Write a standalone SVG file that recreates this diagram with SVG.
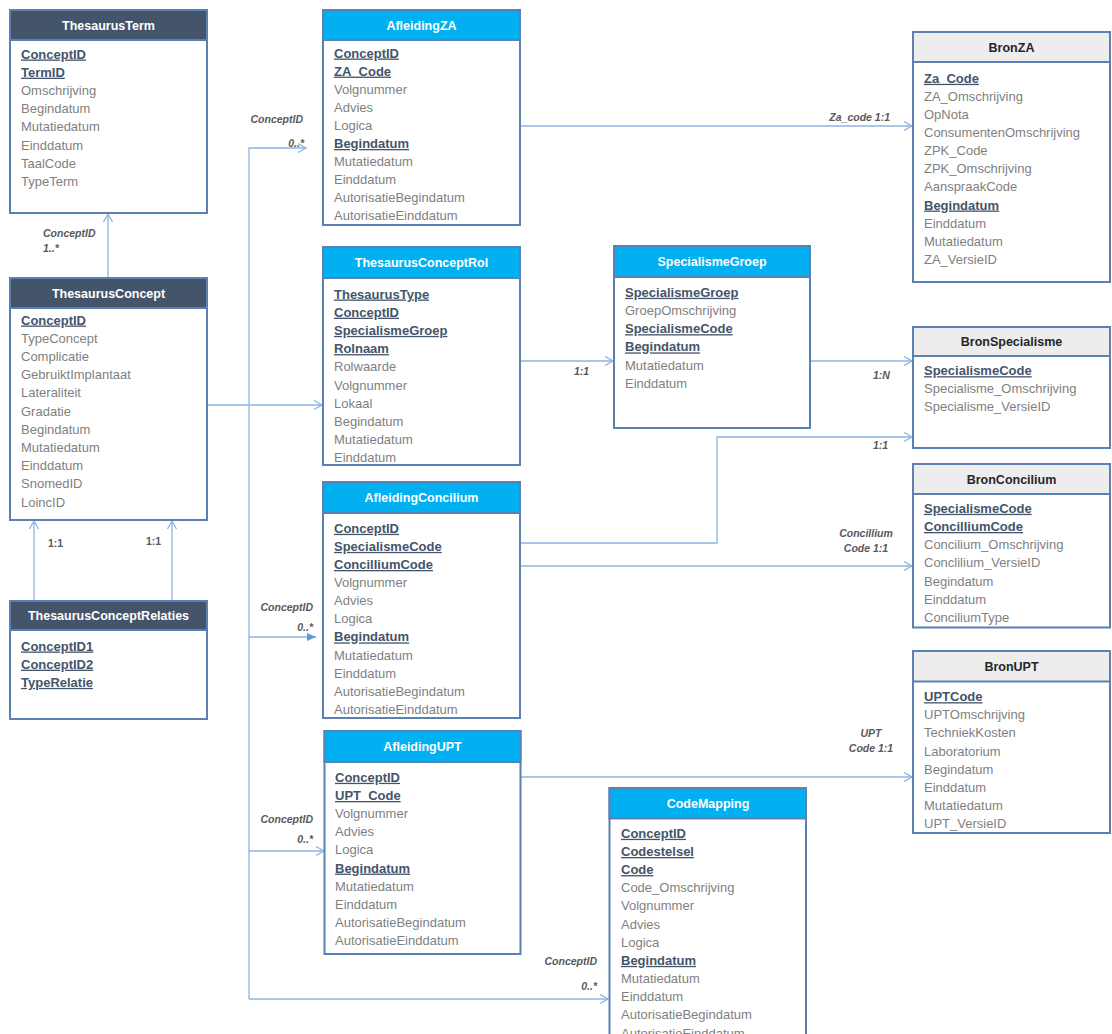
<svg xmlns="http://www.w3.org/2000/svg" width="1112" height="1034" viewBox="0 0 1112 1034">
<style>
.box{fill:#fff;stroke:#5B81B3;stroke-width:2}
.hdark{fill:#44546A;stroke:#5B81B3;stroke-width:2}
.hblue{fill:#00B0F0;stroke:#5B81B3;stroke-width:2}
.hgray{fill:#EDEDED;stroke:#5B81B3;stroke-width:2}
.tl{font-family:"Liberation Sans",Arial,sans-serif;font-size:12.5px;font-weight:bold;fill:#fff;text-anchor:middle}
.td{font-family:"Liberation Sans",Arial,sans-serif;font-size:12.5px;font-weight:bold;fill:#262626;text-anchor:middle}
.f{font-family:"Liberation Sans",Arial,sans-serif;font-size:13px;fill:#7F7F7F}
.k{font-family:"Liberation Sans",Arial,sans-serif;font-size:13px;font-weight:bold;fill:#44546A;text-decoration:underline}
.con{fill:none;stroke:#8DB4E2;stroke-width:1.3}
.lb{font-family:"Liberation Sans",Arial,sans-serif;font-size:10.5px;font-style:italic;font-weight:bold;fill:#595959}
.ln{font-family:"Liberation Sans",Arial,sans-serif;font-size:10.5px;font-weight:bold;fill:#595959}
</style>
<defs>
<marker id="open" markerUnits="userSpaceOnUse" markerWidth="12" markerHeight="12" refX="9" refY="5" orient="auto">
<path d="M1,0.5 L9,5 L1,9.5" fill="none" stroke="#8DB4E2" stroke-width="1.3"/>
</marker>
<marker id="solid" markerUnits="userSpaceOnUse" markerWidth="12" markerHeight="12" refX="9" refY="5" orient="auto">
<path d="M0,1 L9,5 L0,9 Z" fill="#5B9BD5"/>
</marker>
</defs>
<rect width="1112" height="1034" fill="#fff"/>

<g id="connectors">
<path class="con" d="M108 278 V214" marker-end="url(#open)"/>
<path class="con" d="M34 601 V521" marker-end="url(#open)"/>
<path class="con" d="M172 601 V521" marker-end="url(#open)"/>
<path class="con" d="M249 999 V148 H306" marker-end="url(#open)"/>
<path class="con" d="M207 405 H322" marker-end="url(#open)"/>
<path class="con" d="M249 637 H316" marker-end="url(#solid)"/>
<path class="con" d="M249 851 H324" marker-end="url(#open)"/>
<path class="con" d="M249 999 H608" marker-end="url(#open)"/>
<path class="con" d="M520 126 H912" marker-end="url(#open)"/>
<path class="con" d="M520 361 H613" marker-end="url(#open)"/>
<path class="con" d="M810 361 H912" marker-end="url(#open)"/>
<path class="con" d="M520 543 H717 V437 H912" marker-end="url(#open)"/>
<path class="con" d="M520 566 H912" marker-end="url(#open)"/>
<path class="con" d="M521 777 H912" marker-end="url(#open)"/>
<text class="lb" x="43" y="237">ConceptID</text>
<text class="lb" x="43" y="252">1..*</text>
<text class="ln" x="48" y="547">1:1</text>
<text class="ln" x="146" y="545">1:1</text>
<text class="lb" x="303" y="123" text-anchor="end">ConceptID</text>
<text class="lb" x="304" y="147" text-anchor="end">0..*</text>
<text class="lb" x="313" y="611" text-anchor="end">ConceptID</text>
<text class="lb" x="313" y="631" text-anchor="end">0..*</text>
<text class="lb" x="313" y="823" text-anchor="end">ConceptID</text>
<text class="lb" x="313" y="843" text-anchor="end">0..*</text>
<text class="lb" x="597" y="965" text-anchor="end">ConceptID</text>
<text class="lb" x="597" y="990" text-anchor="end">0..*</text>
<text class="lb" x="890" y="121" text-anchor="end">Za_code 1:1</text>
<text class="lb" x="574" y="375">1:1</text>
<text class="lb" x="873" y="379">1:N</text>
<text class="lb" x="873" y="449">1:1</text>
<text class="lb" x="866" y="537" text-anchor="middle">Concillium</text>
<text class="lb" x="866" y="552" text-anchor="middle">Code 1:1</text>
<text class="lb" x="871" y="737" text-anchor="middle">UPT</text>
<text class="lb" x="871" y="752" text-anchor="middle">Code 1:1</text>
</g>

<g id="ThesaurusTerm">
<rect class="box" x="10" y="10" width="197" height="203"/>
<rect class="hdark" x="10" y="10" width="197" height="30"/>
<text class="tl" x="108.5" y="29.5">ThesaurusTerm</text>
<text class="k" x="21" y="58.5">ConceptID</text>
<text class="k" x="21" y="76.7">TermID</text>
<text class="f" x="21" y="94.9">Omschrijving</text>
<text class="f" x="21" y="113.1">Begindatum</text>
<text class="f" x="21" y="131.3">Mutatiedatum</text>
<text class="f" x="21" y="149.5">Einddatum</text>
<text class="f" x="21" y="167.7">TaalCode</text>
<text class="f" x="21" y="185.9">TypeTerm</text>
</g>

<g id="ThesaurusConcept">
<rect class="box" x="10" y="278" width="197" height="242"/>
<rect class="hdark" x="10" y="278" width="197" height="30"/>
<text class="tl" x="108.5" y="297.5">ThesaurusConcept</text>
<text class="k" x="21" y="324.5">ConceptID</text>
<text class="f" x="21" y="342.7">TypeConcept</text>
<text class="f" x="21" y="360.9">Complicatie</text>
<text class="f" x="21" y="379.1">GebruiktImplantaat</text>
<text class="f" x="21" y="397.3">Lateraliteit</text>
<text class="f" x="21" y="415.5">Gradatie</text>
<text class="f" x="21" y="433.7">Begindatum</text>
<text class="f" x="21" y="451.9">Mutatiedatum</text>
<text class="f" x="21" y="470.1">Einddatum</text>
<text class="f" x="21" y="488.3">SnomedID</text>
<text class="f" x="21" y="506.5">LoincID</text>
</g>

<g id="ThesaurusConceptRelaties">
<rect class="box" x="10" y="601" width="197" height="118"/>
<rect class="hdark" x="10" y="601" width="197" height="29"/>
<text class="tl" x="108.5" y="620">ThesaurusConceptRelaties</text>
<text class="k" x="21" y="650.5">ConceptID1</text>
<text class="k" x="21" y="668.7">ConceptID2</text>
<text class="k" x="21" y="686.9">TypeRelatie</text>
</g>

<g id="AfleidingZA">
<rect class="box" x="323" y="10" width="197" height="215"/>
<rect class="hblue" x="323" y="10" width="197" height="30"/>
<text class="tl" x="421.5" y="29.5">AfleidingZA</text>
<text class="k" x="334" y="57.5">ConceptID</text>
<text class="k" x="334" y="75.6">ZA_Code</text>
<text class="f" x="334" y="93.7">Volgnummer</text>
<text class="f" x="334" y="111.8">Advies</text>
<text class="f" x="334" y="129.9">Logica</text>
<text class="k" x="334" y="148">Begindatum</text>
<text class="f" x="334" y="166.1">Mutatiedatum</text>
<text class="f" x="334" y="184.2">Einddatum</text>
<text class="f" x="334" y="202.3">AutorisatieBegindatum</text>
<text class="f" x="334" y="220.4">AutorisatieEinddatum</text>
</g>

<g id="ThesaurusConceptRol">
<rect class="box" x="323" y="247" width="197" height="218"/>
<rect class="hblue" x="323" y="247" width="197" height="31"/>
<text class="tl" x="421.5" y="267">ThesaurusConceptRol</text>
<text class="k" x="334" y="298.5">ThesaurusType</text>
<text class="k" x="334" y="316.7">ConceptID</text>
<text class="k" x="334" y="334.9">SpecialismeGroep</text>
<text class="k" x="334" y="353.1">Rolnaam</text>
<text class="f" x="334" y="371.3">Rolwaarde</text>
<text class="f" x="334" y="389.5">Volgnummer</text>
<text class="f" x="334" y="407.7">Lokaal</text>
<text class="f" x="334" y="425.9">Begindatum</text>
<text class="f" x="334" y="444.1">Mutatiedatum</text>
<text class="f" x="334" y="462.3">Einddatum</text>
</g>

<g id="AfleidingConcilium">
<rect class="box" x="323" y="482" width="197" height="236"/>
<rect class="hblue" x="323" y="482" width="197" height="31"/>
<text class="tl" x="421.5" y="502">AfleidingConcilium</text>
<text class="k" x="334" y="532.8">ConceptID</text>
<text class="k" x="334" y="550.9">SpecialismeCode</text>
<text class="k" x="334" y="569">ConcilliumCode</text>
<text class="f" x="334" y="587.1">Volgnummer</text>
<text class="f" x="334" y="605.2">Advies</text>
<text class="f" x="334" y="623.3">Logica</text>
<text class="k" x="334" y="641.4">Begindatum</text>
<text class="f" x="334" y="659.5">Mutatiedatum</text>
<text class="f" x="334" y="677.6">Einddatum</text>
<text class="f" x="334" y="695.7">AutorisatieBegindatum</text>
<text class="f" x="334" y="713.8">AutorisatieEinddatum</text>
</g>

<g id="AfleidingUPT">
<rect class="box" x="324.5" y="731" width="196" height="223"/>
<rect class="hblue" x="324.5" y="731" width="196" height="31"/>
<text class="tl" x="422.5" y="751">AfleidingUPT</text>
<text class="k" x="335" y="781.8">ConceptID</text>
<text class="k" x="335" y="800">UPT_Code</text>
<text class="f" x="335" y="818.1">Volgnummer</text>
<text class="f" x="335" y="836.3">Advies</text>
<text class="f" x="335" y="854.4">Logica</text>
<text class="k" x="335" y="872.6">Begindatum</text>
<text class="f" x="335" y="890.7">Mutatiedatum</text>
<text class="f" x="335" y="908.9">Einddatum</text>
<text class="f" x="335" y="927">AutorisatieBegindatum</text>
<text class="f" x="335" y="945.2">AutorisatieEinddatum</text>
</g>

<g id="CodeMapping">
<rect class="box" x="609.5" y="788" width="196.5" height="260"/>
<rect class="hblue" x="609.5" y="788" width="196.5" height="30.5"/>
<text class="tl" x="708" y="807.5">CodeMapping</text>
<text class="k" x="621" y="837.8">ConceptID</text>
<text class="k" x="621" y="856">Codestelsel</text>
<text class="k" x="621" y="874.1">Code</text>
<text class="f" x="621" y="892.3">Code_Omschrijving</text>
<text class="f" x="621" y="910.4">Volgnummer</text>
<text class="f" x="621" y="928.6">Advies</text>
<text class="f" x="621" y="946.7">Logica</text>
<text class="k" x="621" y="964.9">Begindatum</text>
<text class="f" x="621" y="983">Mutatiedatum</text>
<text class="f" x="621" y="1001.2">Einddatum</text>
<text class="f" x="621" y="1019.3">AutorisatieBegindatum</text>
<text class="f" x="621" y="1037.5">AutorisatieEinddatum</text>
</g>

<g id="SpecialismeGroep">
<rect class="box" x="614" y="246" width="196" height="182"/>
<rect class="hblue" x="614" y="246" width="196" height="31"/>
<text class="tl" x="712" y="266">SpecialismeGroep</text>
<text class="k" x="625" y="296.8">SpecialismeGroep</text>
<text class="f" x="625" y="315">GroepOmschrijving</text>
<text class="k" x="625" y="333.2">SpecialismeCode</text>
<text class="k" x="625" y="351.4">Begindatum</text>
<text class="f" x="625" y="369.6">Mutatiedatum</text>
<text class="f" x="625" y="387.8">Einddatum</text>
</g>

<g id="BronZA">
<rect class="box" x="913" y="32" width="197" height="250"/>
<rect class="hgray" x="913" y="32" width="197" height="30"/>
<text class="td" x="1011.5" y="51.5">BronZA</text>
<text class="k" x="924" y="82.8">Za_Code</text>
<text class="f" x="924" y="100.9">ZA_Omschrijving</text>
<text class="f" x="924" y="119">OpNota</text>
<text class="f" x="924" y="137.1">ConsumentenOmschrijving</text>
<text class="f" x="924" y="155.2">ZPK_Code</text>
<text class="f" x="924" y="173.3">ZPK_Omschrijving</text>
<text class="f" x="924" y="191.4">AanspraakCode</text>
<text class="k" x="924" y="209.5">Begindatum</text>
<text class="f" x="924" y="227.6">Einddatum</text>
<text class="f" x="924" y="245.7">Mutatiedatum</text>
<text class="f" x="924" y="263.8">ZA_VersieID</text>
</g>

<g id="BronSpecialisme">
<rect class="box" x="913" y="327" width="197" height="121"/>
<rect class="hgray" x="913" y="327" width="197" height="29"/>
<text class="td" x="1011.5" y="346">BronSpecialisme</text>
<text class="k" x="924" y="375.2">SpecialismeCode</text>
<text class="f" x="924" y="393.2">Specialisme_Omschrijving</text>
<text class="f" x="924" y="411.2">Specialisme_VersieID</text>
</g>

<g id="BronConcilium">
<rect class="box" x="913" y="464" width="197" height="163.5"/>
<rect class="hgray" x="913" y="464" width="197" height="30"/>
<text class="td" x="1011.5" y="483.5">BronConcilium</text>
<text class="k" x="924" y="512.8">SpecialismeCode</text>
<text class="k" x="924" y="531">ConcilliumCode</text>
<text class="f" x="924" y="549.1">Concilium_Omschrijving</text>
<text class="f" x="924" y="567.3">Conclilium_VersieID</text>
<text class="f" x="924" y="585.5">Begindatum</text>
<text class="f" x="924" y="603.6">Einddatum</text>
<text class="f" x="924" y="621.8">ConciliumType</text>
</g>

<g id="BronUPT">
<rect class="box" x="913" y="651" width="197" height="182"/>
<rect class="hgray" x="913" y="651" width="197" height="30.5"/>
<text class="td" x="1011.5" y="670.5">BronUPT</text>
<text class="k" x="924" y="701.2">UPTCode</text>
<text class="f" x="924" y="719.3">UPTOmschrijving</text>
<text class="f" x="924" y="737.4">TechniekKosten</text>
<text class="f" x="924" y="755.5">Laboratorium</text>
<text class="f" x="924" y="773.6">Begindatum</text>
<text class="f" x="924" y="791.7">Einddatum</text>
<text class="f" x="924" y="809.8">Mutatiedatum</text>
<text class="f" x="924" y="827.9">UPT_VersieID</text>
</g>
</svg>
